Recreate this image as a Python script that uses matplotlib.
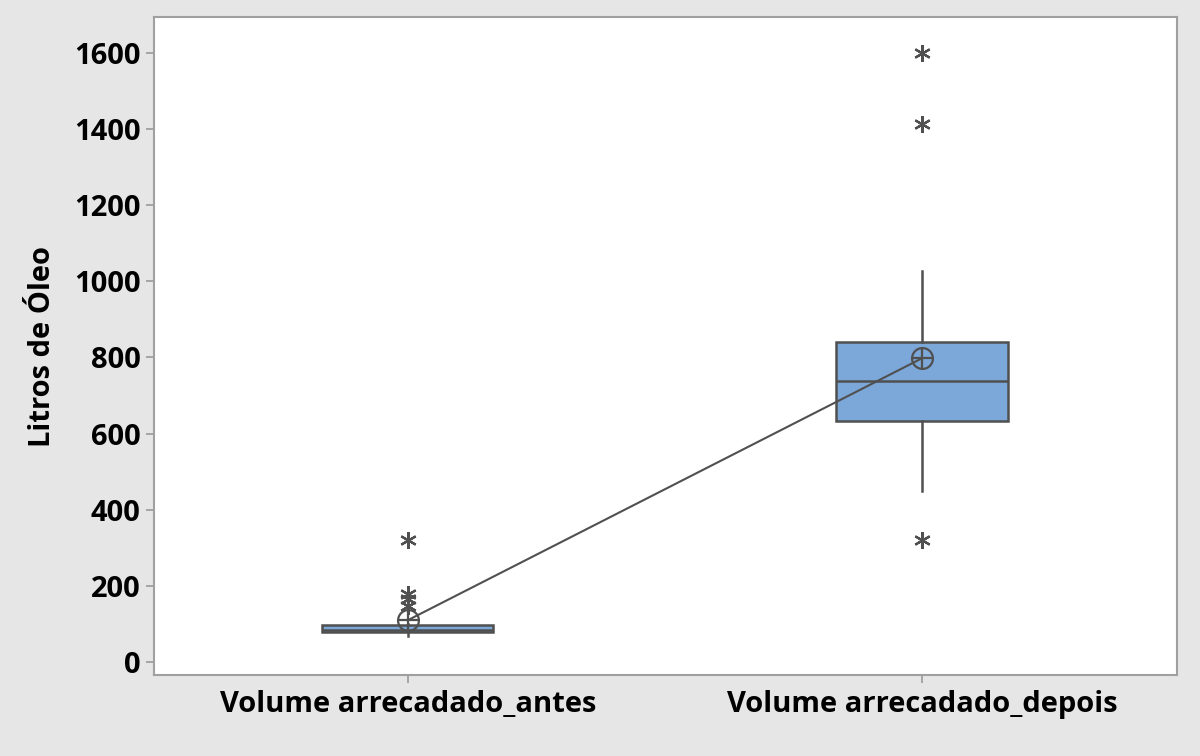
import matplotlib
matplotlib.use("Agg")
import matplotlib.pyplot as plt

# resumo das caixas (valores em litros)
grupos = ["Volume arrecadado_antes", "Volume arrecadado_depois"]
q1 = [80, 633]
mediana = [84, 738]
q3 = [97, 840]
whisker_min = [68, 450]
whisker_max = [100, 1026]
medias = [110, 798]
outliers_antes = [322, 180, 165, 148]
outliers_depois = [320, 1414, 1600]
yticks = [0, 200, 400, 600, 800, 1000, 1200, 1400, 1600]

plt.rcParams['font.family'] = ['Open Sans', 'DejaVu Sans']

fundo = '#e6e6e6'
cor_caixa = '#7ba7d9'
cor_linha = '#505050'
cor_eixo = '#a0a0a0'

fig = plt.figure(figsize=(12, 7.56), dpi=100, facecolor=fundo)
ax = fig.add_axes([0.128, 0.107, 0.853, 0.8705])
ax.set_facecolor('white')

outliers = [outliers_antes, outliers_depois]
stats = []
for i in range(len(grupos)):
    stats.append(dict(med=mediana[i], q1=q1[i], q3=q3[i],
                      whislo=whisker_min[i], whishi=whisker_max[i],
                      fliers=outliers[i], label=grupos[i]))

pos = [1, 2]
ax.bxp(stats, positions=pos, widths=0.333, patch_artist=True, showcaps=False,
       boxprops=dict(facecolor=cor_caixa, edgecolor=cor_linha, linewidth=1.8),
       medianprops=dict(color=cor_linha, linewidth=1.8),
       whiskerprops=dict(color=cor_linha, linewidth=1.8),
       flierprops=dict(marker=(6, 2, 0), markersize=12, markeredgecolor=cor_linha,
                       markeredgewidth=1.6, linestyle='none'))

# linha ligando as médias
ax.plot(pos, medias, color=cor_linha, linewidth=1.5, zorder=4)
ax.plot(pos, medias, linestyle='none', marker='o', markersize=15, markerfacecolor='none',
        markeredgecolor=cor_linha, markeredgewidth=1.6, zorder=5)
ax.plot(pos, medias, linestyle='none', marker='+', markersize=14,
        markeredgecolor=cor_linha, markeredgewidth=1.6, zorder=5)

ax.set_xlim(0.506, 2.496)
ax.set_ylim(-34, 1694)
ax.set_yticks(yticks)
ax.set_xticks(pos)
ax.set_xticklabels(grupos)

for s in ax.spines.values():
    s.set_color(cor_eixo)
    s.set_linewidth(1.5)

ax.tick_params(axis='both', colors=cor_eixo, length=6, width=1.3, labelcolor='black',
               labelsize=21)
ax.tick_params(axis='x', pad=5)
for t in ax.get_xticklabels() + ax.get_yticklabels():
    t.set_fontweight('bold')

ax.set_ylabel('Litros de Óleo', fontsize=21, fontweight='bold', labelpad=12)

fig.savefig('out.png', dpi=100, facecolor=fundo)
